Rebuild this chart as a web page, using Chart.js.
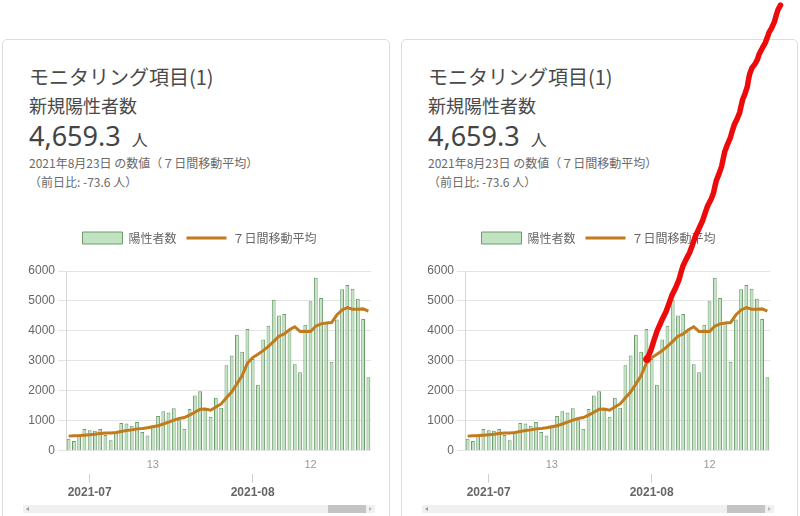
<!DOCTYPE html>
<html lang="ja"><head><meta charset="utf-8">
<script src="https://cdn.jsdelivr.net/npm/chart.js@4.4.1/dist/chart.umd.min.js"></script>
<style>
html,body{margin:0;padding:0;background:#fff;}
body{width:800px;height:516px;position:relative;overflow:hidden;font-family:"Noto Sans CJK JP","Noto Sans",sans-serif;}
.panel{position:absolute;top:0;width:400px;height:516px;}
.card{position:absolute;left:2px;top:39px;height:500px;border:1px solid #dedede;border-radius:5px;box-sizing:border-box;background:#fff;}
.t{position:absolute;white-space:nowrap;line-height:1;}
.title{font-size:20px;color:#4a4a4a;}
.sub{font-size:18px;color:#4a4a4a;}
.val{font-family:"Noto Sans","Noto Sans CJK JP",sans-serif;font-size:27px;color:#444;}
.unit{font-family:"Noto Sans CJK JP",sans-serif;font-size:16px;color:#444;margin-left:11px;}
.note{font-size:12px;color:#6a6a6a;}
.track{position:absolute;left:23px;top:505px;width:352px;height:8px;background:#f0f0f0;}
.thumb{position:absolute;left:305px;top:0;width:38px;height:8px;background:#c4c4c4;}
.arl{position:absolute;left:3px;top:1.5px;width:0;height:0;border-top:2.5px solid transparent;border-bottom:2.5px solid transparent;border-right:3px solid #999;}
.arr{position:absolute;right:3px;top:1.5px;width:0;height:0;border-top:2.5px solid transparent;border-bottom:2.5px solid transparent;border-left:3px solid #bbb;}
canvas.chart{position:absolute;left:28px;top:222px;}
#overlay{position:absolute;left:0;top:0;z-index:10;pointer-events:none;}
</style>
</head>
<body>
<canvas id="overlay" width="800" height="516"></canvas>
<script>
// ---- data ----
const categories = [
 '2021-06-27','2021-06-28','2021-06-29','2021-06-30',
 '2021-07-01','2021-07-02','2021-07-03','2021-07-04','2021-07-05','2021-07-06','2021-07-07','2021-07-08','2021-07-09','2021-07-10',
 '2021-07-11','2021-07-12','2021-07-13','2021-07-14','2021-07-15','2021-07-16','2021-07-17','2021-07-18','2021-07-19','2021-07-20',
 '2021-07-21','2021-07-22','2021-07-23','2021-07-24','2021-07-25','2021-07-26','2021-07-27','2021-07-28','2021-07-29','2021-07-30','2021-07-31',
 '2021-08-01','2021-08-02','2021-08-03','2021-08-04','2021-08-05','2021-08-06','2021-08-07','2021-08-08','2021-08-09','2021-08-10',
 '2021-08-11','2021-08-12','2021-08-13','2021-08-14','2021-08-15','2021-08-16','2021-08-17','2021-08-18','2021-08-19','2021-08-20',
 '2021-08-21','2021-08-22','2021-08-23'
];
const dailyCases = [386,317,476,714,673,660,716,518,342,593,
 920,896,822,950,614,502,830,1149,1308,1271,
 1410,1008,727,1387,1832,1979,1359,1128,1763,1429,
 2848,3177,3865,3300,4058,3058,2195,3709,4166,5042,
 4515,4566,4066,2884,2612,4200,4989,5773,5094,4295,
 2962,4377,5386,5534,5405,5074,4392,2447];
const movingAvg = [477.4,489.0,494.9,508.4,523.1,537.1,563.1,582.0,585.6,602.3,
 631.7,663.6,686.7,720.1,733.9,756.7,790.6,823.3,882.1,946.3,
 1012.0,1068.3,1100.4,1180.0,1277.6,1373.4,1386.0,1345.7,1453.6,1553.9,
 1762.6,1954.7,2224.1,2501.4,2920.0,3105.0,3214.4,3337.4,3478.7,3646.9,
 3820.4,3893.0,4037.0,4135.4,3978.7,3983.6,3976.0,4155.7,4231.1,4263.9,
 4275.0,4527.1,4696.6,4774.4,4721.9,4719.0,4732.9,4659.3];
const seriesNames = ['陽性者数','７日間移動平均'];
const yTicks = [0,1000,2000,3000,4000,5000,6000];
const minorTickLabels = {'2021-07-13':'13','2021-08-12':'12'};
const majorTickLabels = {'2021-07-01':'2021-07','2021-08-01':'2021-08'};
// hand-drawn red stroke on the right panel, in (category index, value) units
const strokeIdx = [34.1,34.85,35.4,36.05,36.9,37.7,38.3,38.85,39.6,40.2,40.6,40.95,41.5,42.2,42.7,43.25,44.0,44.7,45.2,45.65,46.3,46.75,47.0,47.3,47.8,48.3,48.6,48.9,49.4,49.95,50.3,50.7,51.3,51.75,52.0,52.3,52.8,53.2,53.4,53.65,54.1,54.7,55.1,55.45,56.0,56.6,57.0,57.3,57.8,58.35,58.7,59.0,59.5];
const strokeVal = [3046,3355,3665,4003,4342,4630,4917,5188,5458,5712,5966,6169,6372,6609,6846,7133,7421,7692,7963,8183,8403,8606,8809,9028,9248,9502,9756,9993,10230,10450,10670,10890,11110,11313,11516,11736,11956,12176,12396,12599,12802,12937,13072,13258,13445,13631,13817,13970,14122,14341,14561,14730,14890];

const texts = {
  title:'モニタリング項目(1)', sub:'新規陽性者数', value:'4,659.3', unit:'人',
  date:'2021年8月23日 の数値（７日間移動平均）', diff:'（前日比: -73.6 人）'
};

const BAR_FILL = '#c2e3c2', BAR_EDGE = '#6a9c6a', LINE_COLOR = '#c27b1c';

function buildPanel(shift, cardW){
  const p = document.createElement('div');
  p.className = 'panel'; p.style.left = shift + 'px';
  p.innerHTML =
   `<div class="card" style="width:${cardW}px"></div>
    <div class="t title" style="left:29px;top:67px">${texts.title}</div>
    <div class="t sub" style="left:29px;top:96px">${texts.sub}</div>
    <div class="t" style="left:29px;top:122px"><span class="val">${texts.value}</span><span class="unit">${texts.unit}</span></div>
    <div class="t note" style="left:29px;top:157px">${texts.date}</div>
    <div class="t note" style="left:29px;top:176px">${texts.diff}</div>
    <div class="track"><div class="arl"></div><div class="thumb"></div><div class="arr"></div></div>`;
  const c = document.createElement('canvas');
  c.className = 'chart'; c.width = 348; c.height = 281;
  c.style.width = '348px'; c.style.height = '281px';
  p.appendChild(c);
  document.body.appendChild(p);
  return c;
}

const legendGap = { id:'legendGap', beforeInit(chart){
  const fit = chart.legend.fit;
  chart.legend.fit = function(){ fit.call(this); this.height += 17; };
}};

function makeChart(canvas){
  return new Chart(canvas.getContext('2d'), {
    data: {
      labels: categories,
      datasets: [
        { type:'bar', label: seriesNames[0], data: dailyCases, backgroundColor: BAR_FILL,
          borderColor: BAR_EDGE, borderWidth: 1, order: 1 },
        { type:'line', label: seriesNames[1], data: movingAvg, borderColor: LINE_COLOR,
          borderWidth: 3, pointRadius: 0, tension: 0, fill: false, order: 0 }
      ]
    },
    plugins: [legendGap],
    options: {
      responsive:false, animation:false, devicePixelRatio:1,
      layout:{ padding:{ left:0, right:5, top:0, bottom:0 } },
      font:{ family:"'Liberation Sans','Noto Sans CJK JP',sans-serif" },
      plugins:{
        tooltip:{enabled:false},
        legend:{
          position:'top',
          labels:{
            usePointStyle:true, pointStyleWidth:40, padding:10, color:'#666',
            font:{ size:12, family:"'Noto Sans CJK JP',sans-serif" },
            generateLabels:(chart)=>chart.data.datasets.map((ds,i)=>({
              text: ds.label, datasetIndex:i, hidden:false,
              fillStyle: i===0 ? BAR_FILL : LINE_COLOR,
              strokeStyle: i===0 ? BAR_EDGE : LINE_COLOR,
              lineWidth: i===0 ? 1 : 3,
              pointStyle: i===0 ? 'rect' : 'line',
              fontColor:'#666'
            }))
          }
        }
      },
      scales:{
        y:{
          min: yTicks[0], max: yTicks[yTicks.length-1],
          afterBuildTicks:(s)=>{ s.ticks = yTicks.map(v=>({value:v})); },
          afterFit:(s)=>{ s.width = 38; },
          grid:{ color:'#e4e4e4', tickLength:8 },
          border:{ color:'#d6d6d6' },
          ticks:{ color:'#666', padding:3, font:{ size:12, family:"'Liberation Sans',sans-serif" },
                  callback:(v)=> String(v) }
        },
        x:{
          type:'category', offset:true, weight:0,
          grid:{ display:true, color:'transparent', drawOnChartArea:false, tickLength:6, offset:true },
          border:{ display:false },
          ticks:{ autoSkip:false, maxRotation:0, minRotation:0, padding:2, color:'#999',
                  font:{ size:11, family:"'Liberation Sans',sans-serif" },
                  callback:(v,i)=> minorTickLabels[categories[i]] || '' }
        },
        x2:{
          type:'category', position:'bottom', offset:true, weight:1,
          min:0, max:categories.length-1,
          grid:{ drawOnChartArea:false, offset:false, tickLength:9,
                 color:(ctx)=> (ctx.tick && majorTickLabels[categories[ctx.index]]) ? '#cfcfcf' : 'transparent' },
          border:{ display:false },
          ticks:{ autoSkip:false, maxRotation:0, minRotation:0, padding:3, color:'#666',
                  font:{ size:12, weight:'bold', family:"'Liberation Sans',sans-serif" },
                  callback:(v,i)=> majorTickLabels[categories[i]] || '' }
        }
      }
    }
  });
}

const leftCanvas = buildPanel(0, 388);
const rightCanvas = buildPanel(399, 397);
makeChart(leftCanvas);
const rightChart = makeChart(rightCanvas);

// red hand-drawn stroke, positioned through the right chart's scales
(function drawStroke(){
  const ov = document.getElementById('overlay').getContext('2d');
  const r = rightCanvas.getBoundingClientRect();
  const xs = rightChart.scales.x, ys = rightChart.scales.y;
  ov.strokeStyle = '#ec0a0a'; ov.fillStyle = '#ec0a0a';
  ov.lineWidth = 5.5; ov.lineCap = 'round'; ov.lineJoin = 'round';
  ov.beginPath();
  strokeIdx.forEach((ix,k)=>{
    const px = r.left + xs.getPixelForValue(ix);
    const py = r.top + ys.getPixelForValue(strokeVal[k]);
    if(k===0) ov.moveTo(px,py); else ov.lineTo(px,py);
  });
  ov.stroke();
  ov.beginPath();
  ov.arc(r.left + xs.getPixelForValue(strokeIdx[0]), r.top + ys.getPixelForValue(strokeVal[0]), 3.8, 0, Math.PI*2);
  ov.fill();
})();
</script>
</body></html>
